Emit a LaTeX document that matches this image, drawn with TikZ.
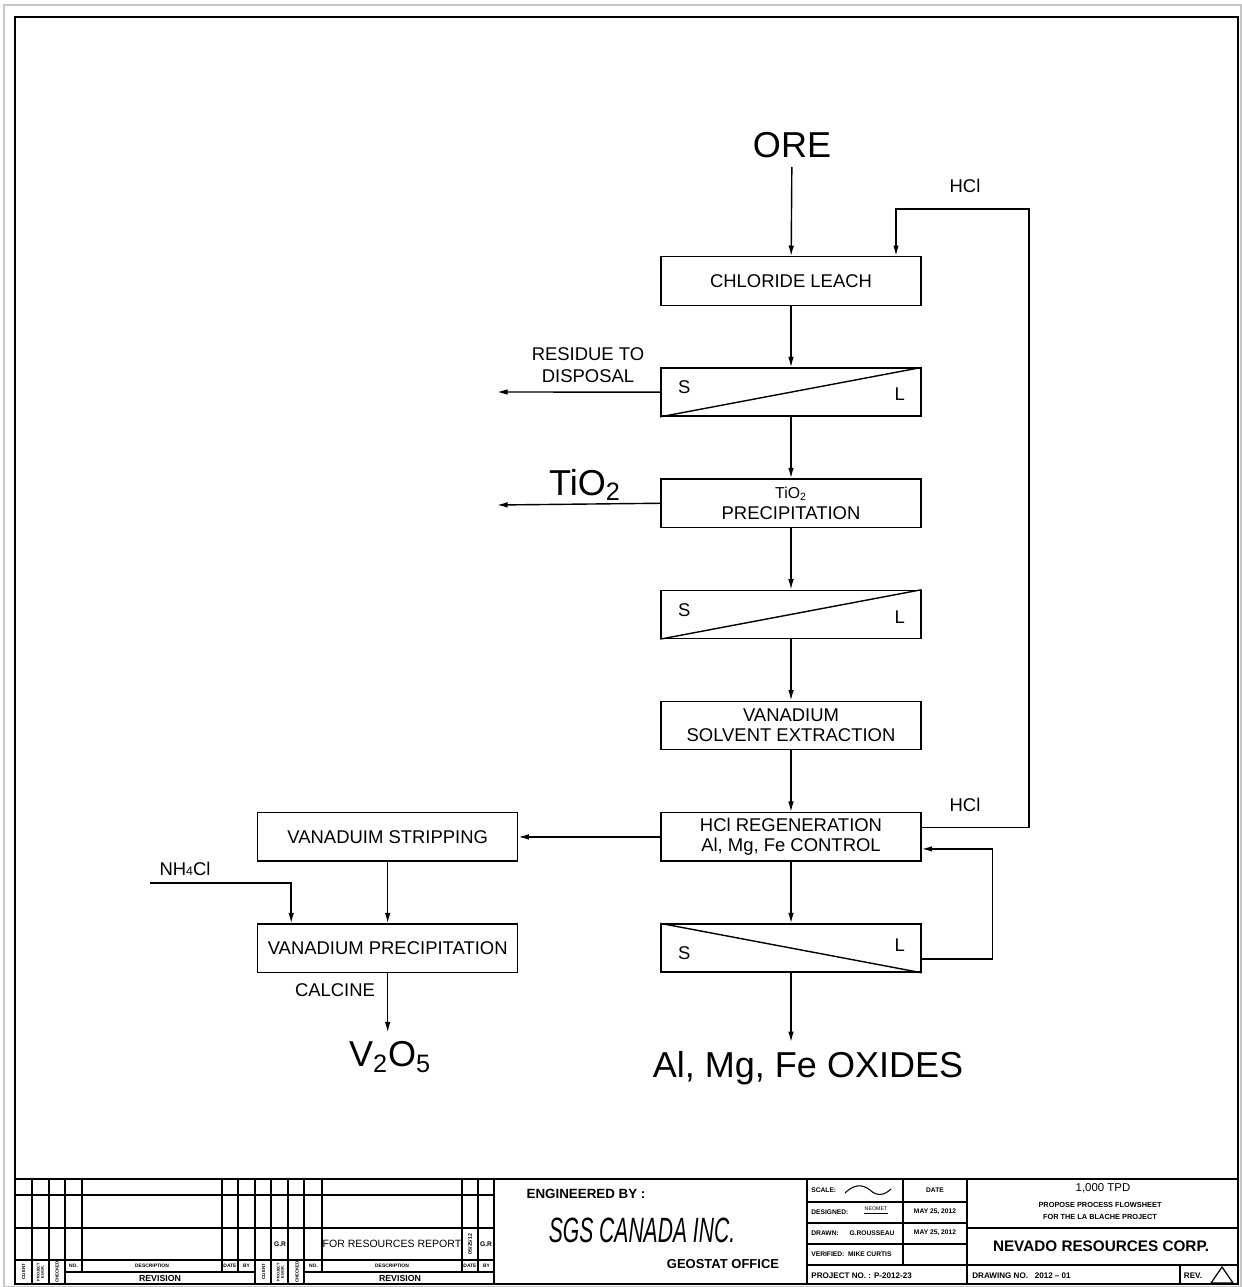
\documentclass[tikz,border=0pt]{standalone}
\usepackage{fontspec}
\setmainfont{Liberation Sans}
\usetikzlibrary{arrows.meta, positioning}

\begin{document}
\begin{tikzpicture}[
    x=0.02cm, y=-0.02cm,
    node distance=1.23cm,
    font=\fontsize{10.5}{11.5}\selectfont,
    process/.style={
        rectangle, draw, line width=0.8pt,
        minimum width=5.2cm, minimum height=0.97cm,
        inner sep=1pt, align=center
    },
    separator/.style={process, minimum height=0.96cm},
    biglabel/.style={font=\fontsize{20.5}{22}\selectfont, inner sep=5pt},
    stream/.style={align=center, inner sep=1pt},
    arrow/.style={-{Latex[length=6pt,width=3.2pt]}, line width=0.8pt},
    pipe/.style={line width=0.8pt},
    frame/.style={line width=0.8pt},
    tbtext/.style={font=\fontsize{3.8}{4.2}\selectfont\bfseries, inner sep=0pt, align=center},
    tbhead/.style={tbtext, font=\fontsize{2.8}{3.1}\selectfont\bfseries},
    tbrot/.style={tbhead, rotate=90, font=\fontsize{2.5}{2.8}\selectfont\bfseries}
]

% Sheet frame
\useasboundingbox (0,0) rectangle (1241,1287);
\draw[gray!45, line width=0.6pt] (4,5) rectangle (1241,1287);
\draw[line width=1.6pt] (15,17) rectangle (1238,1284);

% Main vertical blocks
\node[biglabel] (ore) at (792,145) {ORE};
\node[process] (leach) at (791,281) {CHLORIDE LEACH};
\node[separator, below=of leach] (sep1) {};
\node[process, below=of sep1] (tiprec) {{\fontsize{9}{10}\selectfont TiO\textsubscript{2}}\\PRECIPITATION};
\node[separator, below=of tiprec] (sep2) {};
\node[process, below=of sep2] (vsx) {VANADIUM\\SOLVENT EXTRACTION};
\node[process, below=of vsx] (hclregen) {HCl REGENERATION\\Al, Mg, Fe CONTROL};
\node[separator, below=of hclregen] (sep3) {};
\node[biglabel] (oxides) at (808,1068) {Al, Mg, Fe OXIDES};

% Side blocks
\node[process, left=2.84cm of hclregen] (vstrip) {VANADUIM STRIPPING};
\node[process, below=of vstrip] (vprec) {VANADIUM PRECIPITATION};
\node[biglabel] (v2o5) at (390,1057) {V\textsubscript{2}O\textsubscript{5}};

% Solid / liquid splits
\draw[pipe] (sep1.south west) -- (sep1.north east);
\node at ([xshift=0.48cm, yshift=0.09cm]sep1.west) {S};
\node at ([xshift=-0.44cm, yshift=-0.05cm]sep1.east) {L};
\draw[pipe] (sep2.south west) -- (sep2.north east);
\node at ([xshift=0.48cm, yshift=0.09cm]sep2.west) {S};
\node at ([xshift=-0.44cm, yshift=-0.05cm]sep2.east) {L};
\draw[pipe] (sep3.north west) -- (sep3.south east);
\node at ([xshift=0.48cm, yshift=-0.1cm]sep3.west) {S};
\node at ([xshift=-0.44cm, yshift=0.06cm]sep3.east) {L};

% Stream labels
\node[stream, font=\fontsize{10.5}{12.5}\selectfont] (residue) at (588,365) {RESIDUE TO\\DISPOSAL};
\node[biglabel] (tio2) at (585,485) {TiO\textsubscript{2}};
\node[stream] (hcllabel) at (965,186) {HCl};
\node[stream] (hclrecycle) at (965,805) {HCl};
\node[stream] (nh4cl) at (185,869) {NH{\fontsize{7}{8}\selectfont 4}Cl};
\node[stream] (calcine) at (335,990) {CALCINE};
\coordinate (residueend) at (497,392);
\coordinate (tioend) at (497,505);
\coordinate (hcltop) at (1029,209);
\coordinate (nhstart) at (150,883);

% Main arrows
\draw[arrow] (ore) -- (leach);
\draw[arrow] (leach) -- (sep1);
\draw[arrow] (sep1) -- (tiprec);
\draw[arrow] (tiprec) -- (sep2);
\draw[arrow] (sep2) -- (vsx);
\draw[arrow] (vsx) -- (hclregen);
\draw[arrow] (hclregen) -- (sep3);
\draw[arrow] (sep3) -- (sep3 |- oxides.north);

% Side arrows
\draw[arrow] (sep1.west) -- (residueend);
\draw[arrow] (tiprec.west) -- (tioend);
\draw[arrow] ([yshift=0.19cm]hclregen.east) -| (hcltop) -| ([xshift=2.1cm]leach.north);
\draw[arrow] ([yshift=-0.22cm]sep3.east) -- ++(71,0) |- ([yshift=-0.24cm]hclregen.east);
\draw[arrow] (hclregen) -- (vstrip);
\draw[arrow] (vstrip) -- (vprec);
\draw[arrow] (nhstart) -| ([xshift=-1.93cm]vprec.north);
\draw[arrow] (vprec) -- (vprec |- v2o5.north);

% Title block: revision columns
\draw[frame] (15,1179) -- (1238,1179);
\foreach \y in {1195,1228,1260} \draw[frame] (15,\y) -- (494,\y);
\draw[frame] (65,1272) -- (255,1272);
\draw[frame] (304,1272) -- (494,1272);
\foreach \x in {32,49,65,255,271,288,304,494} \draw[frame] (\x,1179) -- (\x,1284);
\foreach \x in {82,222,238,322,462,478} \draw[frame] (\x,1179) -- (\x,1272);
\foreach \x in {0,240} {
  \node[tbrot] at (23.5+\x,1272) {CLIENT};
  \node[tbrot, font=\fontsize{2.2}{2.4}\selectfont\bfseries] at (40.5+\x,1272) {PROJECT\\ENGR.};
  \node[tbrot] at (57+\x,1272) {CHECKED};
  \node[tbhead] at (73.5+\x,1266) {NO.};
  \node[tbhead] at (152+\x,1266) {DESCRIPTION};
  \node[tbhead] at (230+\x,1266) {DATE};
  \node[tbhead] at (246.5+\x,1266) {BY};
  \node[tbtext, font=\fontsize{5}{5.5}\selectfont\bfseries] at (160+\x,1278.5) {REVISION};
}
\node[tbtext] at (280,1244) {G.R};
\node[tbtext, font=\fontsize{6}{7}\selectfont] at (392,1244) {FOR RESOURCES REPORT};
\node[tbrot, font=\fontsize{3}{3.3}\selectfont\bfseries] at (470,1244) {05/25/12};
\node[tbtext] at (486,1244) {G.R};

% Title block: engineer
\node[tbtext, font=\fontsize{7.6}{8.5}\selectfont\bfseries] (engby) at (586,1194) {ENGINEERED BY :};
\node[inner sep=0pt] (sgs) at (642,1230) {\scalebox{0.6}[1]{\fontsize{20}{22}\selectfont\itshape SGS CANADA INC.}};
\node[tbtext, font=\fontsize{7.4}{8.5}\selectfont\bfseries] (geostat) at (723,1264) {GEOSTAT OFFICE};

% Title block: drawing data
\foreach \x in {807,967} \draw[frame] (\x,1179) -- (\x,1284);
\draw[frame] (903,1179) -- (903,1265);
\draw[frame] (1180,1265) -- (1180,1284);
\foreach \y in {1202,1223,1244} \draw[frame] (807,\y) -- (967,\y);
\draw[frame] (807,1265) -- (1238,1265);
\draw[frame] (967,1228) -- (1238,1228);
\node[tbtext, anchor=west] at (811,1190) {SCALE:};
\draw[line width=0.6pt] (845,1193) .. controls (857,1181) and (866,1187) .. (870,1190)
    .. controls (876,1196) and (884,1196) .. (891,1189);
\node[tbtext] at (935,1190) {DATE};
\node[tbtext, anchor=west] at (811,1212) {DESIGNED:};
\node[tbtext, font=\fontsize{3}{3.3}\selectfont] (neomet) at (876,1209) {NEOMET};
\draw[line width=0.4pt] ([yshift=-1.2pt]neomet.south west) -- ([yshift=-1.2pt]neomet.south east);
\node[tbtext] at (935,1212) {MAY 25, 2012};
\node[tbtext, anchor=west] at (811,1233) {DRAWN:};
\node[tbtext] at (872,1233) {G.ROUSSEAU};
\node[tbtext] at (935,1233) {MAY 25, 2012};
\node[tbtext, anchor=west] at (811,1254) {VERIFIED:\ \ MIKE CURTIS};
\node[tbtext, font=\fontsize{4.6}{5}\selectfont\bfseries, anchor=west] at (811,1276) {PROJECT NO. : P-2012-23};
\node[tbtext, font=\fontsize{6.5}{7}\selectfont] (tpd) at (1103,1188) {1,000 TPD};
\node[tbtext, font=\fontsize{4.2}{6.8}\selectfont\bfseries] (flowsheet) at (1100,1211) {PROPOSE PROCESS FLOWSHEET\\FOR THE LA BLACHE PROJECT};
\node[tbtext, font=\fontsize{8.7}{10}\selectfont\bfseries] (client) at (1101,1246) {NEVADO RESOURCES CORP.};
\node[tbtext, font=\fontsize{4.6}{5}\selectfont\bfseries, anchor=west] at (972,1276) {DRAWING NO.\ \ \ 2012 -- 01};
\node[tbtext, font=\fontsize{4.6}{5}\selectfont\bfseries] at (1193,1276) {REV.};
\draw[line width=0.7pt] (1211,1283) -- (1222,1267) -- (1233,1283) -- cycle;

\end{tikzpicture}
\end{document}
